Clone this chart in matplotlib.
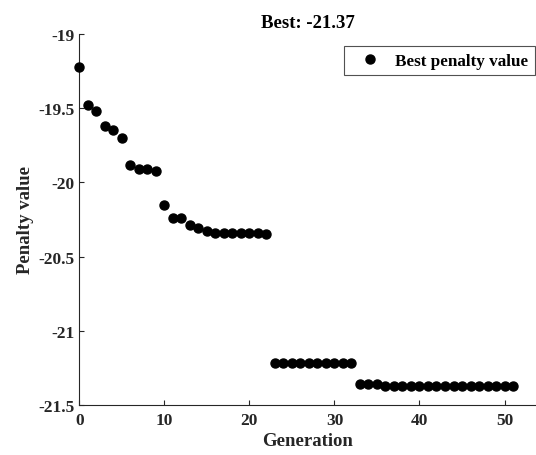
import matplotlib
matplotlib.use("Agg")
import matplotlib.pyplot as plt

# best penalty value per generation
generations = list(range(52))
best_penalty = [
    -19.22, -19.48, -19.52, -19.62, -19.65, -19.70, -19.88, -19.91, -19.91, -19.92,
    -20.15, -20.24, -20.24, -20.29, -20.31, -20.33, -20.34, -20.34, -20.34, -20.34,
    -20.34, -20.34, -20.35,
    -21.22, -21.22, -21.22, -21.22, -21.22, -21.22, -21.22, -21.22, -21.22, -21.22,
    -21.36, -21.36, -21.36,
    -21.37, -21.37, -21.37, -21.37, -21.37, -21.37, -21.37, -21.37, -21.37, -21.37,
    -21.37, -21.37, -21.37, -21.37, -21.37, -21.37,
]
x_ticks = [0, 10, 20, 30, 40, 50]
y_ticks = [-21.5, -21, -20.5, -20, -19.5, -19]
y_tick_labels = ["-21.5", "-21", "-20.5", "-20", "-19.5", "-19"]

plt.rcParams["font.family"] = "Liberation Serif"
plt.rcParams["font.weight"] = "bold"

W, H = 536, 456
fig = plt.figure(figsize=(W / 100, H / 100), dpi=100)
# axes box in pixels: x 79.3..536, y 35..406 (from top)
ax = fig.add_axes([79.3 / W, 1 - 406 / H, (W - 79.3) / W, (406 - 35) / H])

ax.plot(generations, best_penalty, "o", color="black", markersize=6.5,
        label="Best penalty value", clip_on=False, zorder=3)

ax.set_xlim(0, 53.7)
ax.set_ylim(-21.5, -19)
ax.set_xticks(x_ticks)
ax.set_yticks(y_ticks)
ax.set_yticklabels(y_tick_labels)
ax.tick_params(direction="in", length=3.3, width=0.8, labelsize=12.5,
               colors="#262626", labelcolor="#262626")
ax.tick_params(axis="x", pad=5)
ax.tick_params(axis="y", pad=3.5)
for lab in ax.get_xticklabels() + ax.get_yticklabels():
    lab.set_fontweight("bold")

ax.spines["top"].set_visible(False)
ax.spines["right"].set_visible(False)
for side in ("left", "bottom"):
    ax.spines[side].set_color("#262626")
    ax.spines[side].set_linewidth(0.8)

ax.set_xlabel("Generation", fontsize=13.5, fontweight="bold", labelpad=3,
              color="#262626")
ax.set_ylabel("Penalty value", fontsize=13.5, fontweight="bold", labelpad=3,
              color="#262626")
ax.set_title("Best: -21.37", fontsize=13.5, fontweight="bold", pad=5)

# legend box: x 345..535, top at y=47 (pixels from top)
leg = ax.legend(loc="upper right", fontsize=12.3, frameon=True, fancybox=False,
                bbox_to_anchor=(535 / W, 1 - 47.3 / H),
                bbox_transform=fig.transFigure, borderaxespad=0,
                handletextpad=0.33, borderpad=0.38, handlelength=2.3)
leg.get_frame().set_edgecolor("#262626")
leg.get_frame().set_linewidth(0.8)
for t in leg.get_texts():
    t.set_fontweight("bold")

fig.savefig("out.png", dpi=100)
